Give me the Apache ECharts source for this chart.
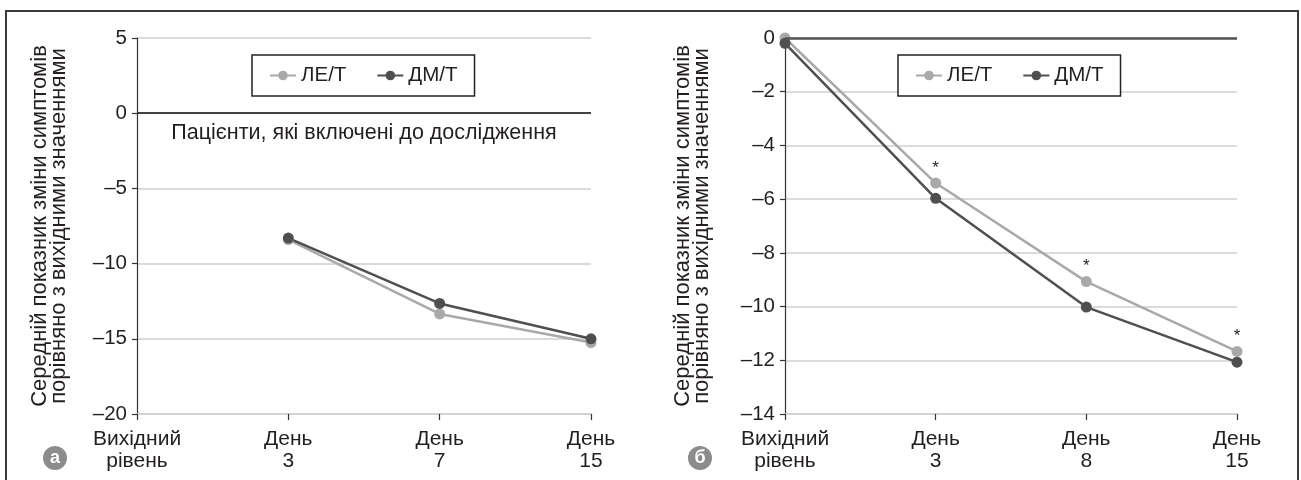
<!DOCTYPE html>
<html>
<head>
<meta charset="utf-8">
<script src="https://cdn.jsdelivr.net/npm/echarts@6/dist/echarts.min.js"></script>
<style>
  html, body { margin: 0; padding: 0; background: #fff; }
  #chart { width: 1301px; height: 480px; }
</style>
</head>
<body>
<div id="chart"></div>
<script>
// Categories of the two panels
const categoriesA = ['Вихідний\nрівень', 'День\n3', 'День\n7', 'День\n15'];
const categoriesB = ['Вихідний\nрівень', 'День\n3', 'День\n8', 'День\n15'];

// Panel а: all enrolled patients (no value at baseline)
const leA = [null, -8.4, -13.35, -15.25];
const dmA = [null, -8.3, -12.65, -15.0];

// Panel б
const leB = [0, -5.4, -9.07, -11.67];
const dmB = [-0.2, -5.97, -10.02, -12.07];
// Significant differences marked with an asterisk above ЛЕ/Т
const starsB = [false, true, true, true];

// Value-axis ranges
const yRangeA = { min: -20, max: 5, interval: 5 };
const yRangeB = { min: -14, max: 0, interval: 2 };

const seriesNames = ['ЛЕ/Т', 'ДМ/Т'];
const axisTitle = 'Середній показник зміни симптомів\nпорівняно з вихідними значеннями';
const noteA = 'Пацієнти, які включені до дослідження';
const panelTags = ['а', 'б'];

const FONT = '"Liberation Sans", Arial, sans-serif';
const LIGHT = '#a9a9a9';
const DARK = '#4f4f4f';
const TEXT = '#231f20';

const fmtMinus = v => String(v).replace('-', '–');

function xAxisFor(cats, gridIndex) {
  return {
    type: 'category', gridIndex, data: cats, boundaryGap: false,
    axisLine: { onZero: false, show: true, lineStyle: { color: '#cfcfcf', width: 1.5 } },
    axisTick: { show: true, length: 6, lineStyle: { color: '#333', width: 1.2 } },
    axisLabel: { color: TEXT, fontFamily: FONT, fontSize: 21, lineHeight: 22, margin: 14, interval: 0 },
    splitLine: { show: false }
  };
}

function yAxisFor(range, gridIndex, gap) {
  return {
    type: 'value', gridIndex, min: range.min, max: range.max, interval: range.interval,
    name: axisTitle, nameLocation: 'middle', nameGap: gap, nameRotate: 90,
    nameTextStyle: { color: TEXT, fontFamily: FONT, fontSize: 22, lineHeight: 19 },
    axisLine: { show: true, lineStyle: { color: '#333', width: 1.2 } },
    axisTick: { show: true, length: 5, lineStyle: { color: '#333', width: 1.2 } },
    axisLabel: { color: TEXT, fontFamily: FONT, fontSize: 20.5, margin: 10, formatter: fmtMinus },
    splitLine: { show: true, lineStyle: { color: '#cfcfcf', width: 1.5 } }
  };
}

function lineSeries(name, color, data, idx, extra) {
  return Object.assign({
    name, type: 'line', xAxisIndex: idx, yAxisIndex: idx, data,
    symbol: 'circle', symbolSize: 11, showSymbol: true,
    lineStyle: { color, width: 2.5 }, itemStyle: { color },
    emphasis: { disabled: true }, animation: false
  }, extra || {});
}

function legendAt(left) {
  return {
    data: seriesNames, left, top: 55, orient: 'horizontal',
    backgroundColor: '#fff', borderColor: '#222', borderWidth: 1.5, borderRadius: 0,
    padding: [10, 17], itemGap: 30, itemWidth: 26, itemHeight: 12,
    textStyle: { color: TEXT, fontFamily: FONT, fontSize: 20.5 },
    selectedMode: false
  };
}

const zeroLineA = {
  silent: true, symbol: 'none',
  lineStyle: { color: '#111', width: 1.6, type: 'solid' },
  label: { show: true, position: 'insideMiddleBottom', formatter: noteA, color: TEXT,
           fontFamily: FONT, fontSize: 21.5, distance: [0, 9] },
  data: [{ yAxis: 0 }]
};
const zeroLineB = {
  silent: true, symbol: 'none',
  lineStyle: { color: '#555', width: 2.5, type: 'solid' },
  label: { show: false },
  data: [{ yAxis: 0 }]
};

const leBData = leB.map((v, i) => starsB[i]
  ? { value: v, label: { show: true, formatter: '*', position: 'top', distance: 1,
                         color: TEXT, fontFamily: FONT, fontSize: 17 } }
  : v);

const option = {
  backgroundColor: '#fff',
  textStyle: { fontFamily: FONT },
  grid: [
    { left: 137, right: 1301 - 591, top: 38, bottom: 480 - 414 },
    { left: 785, right: 1301 - 1237, top: 38, bottom: 480 - 414 }
  ],
  legend: [legendAt(252), legendAt(898)],
  xAxis: [xAxisFor(categoriesA, 0), xAxisFor(categoriesB, 1)],
  yAxis: [yAxisFor(yRangeA, 0, 69), yAxisFor(yRangeB, 1, 74)],
  series: [
    lineSeries(seriesNames[0], LIGHT, leA, 0, { markLine: zeroLineA }),
    lineSeries(seriesNames[1], DARK, dmA, 0),
    lineSeries(seriesNames[0], LIGHT, leBData, 1, { markLine: zeroLineB }),
    lineSeries(seriesNames[1], DARK, dmB, 1)
  ],
  graphic: [
    { type: 'rect', shape: { x: 6, y: 11, width: 1292, height: 500 },
      style: { fill: 'none', stroke: '#3a3a3a', lineWidth: 2 }, silent: true },
    { type: 'circle', shape: { cx: 55, cy: 458, r: 12 }, style: { fill: '#8c8c8c' }, silent: true },
    { type: 'text', x: 55, y: 458, style: { text: panelTags[0], fill: '#fff', font: 'bold 18px ' + FONT,
      align: 'center', verticalAlign: 'middle' }, silent: true },
    { type: 'circle', shape: { cx: 700, cy: 458, r: 12 }, style: { fill: '#8c8c8c' }, silent: true },
    { type: 'text', x: 700, y: 458, style: { text: panelTags[1], fill: '#fff', font: 'bold 18px ' + FONT,
      align: 'center', verticalAlign: 'middle' }, silent: true }
  ]
};

const chart = echarts.init(document.getElementById('chart'), null, { renderer: 'canvas' });
chart.setOption(option);
</script>
</body>
</html>
